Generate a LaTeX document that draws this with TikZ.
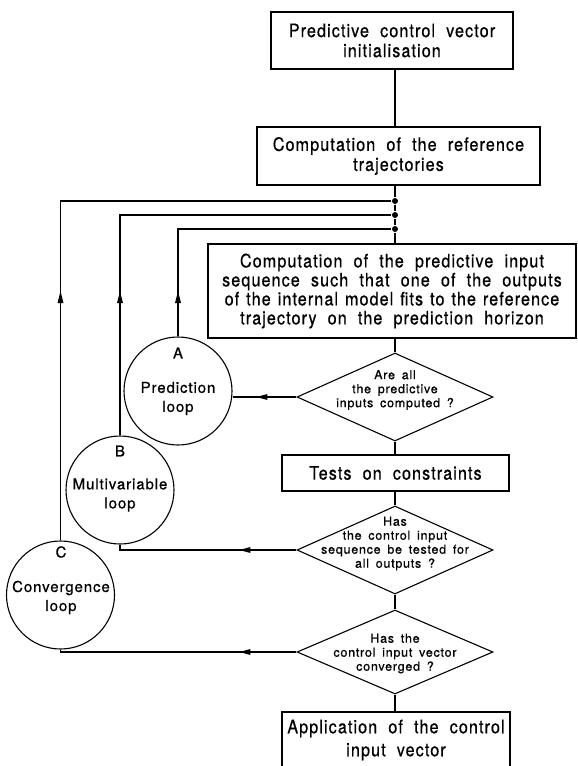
\documentclass[tikz,border=0pt]{standalone}
\usepackage{fontspec}
\setmainfont{TeX Gyre Heros}
\newfontfamily\boxfont{TeX Gyre Heros}[FakeStretch=0.87,LetterSpace=6,WordSpace=2,FakeBold=0.6]
\newfontfamily\smfont{TeX Gyre Heros}[LetterSpace=6,WordSpace=1.6,FakeBold=0.6]
\usetikzlibrary{shapes.geometric}
\begin{document}
\begin{tikzpicture}[x=1pt,y=-1pt,line width=1.1pt,
  procbox/.style={draw,rectangle,inner sep=0pt,align=center,
    font=\boxfont\fontsize{18.5}{20}\selectfont},
  decision/.style={draw,diamond,inner sep=0pt,minimum width=196pt},
  dtext/.style={align=center,inner sep=0pt,font=\smfont\fontsize{12.5}{14}\selectfont},
  loopc/.style={draw,circle,inner sep=0pt,minimum size=108pt},
  ctext/.style={align=center,inner sep=0pt,font=\smfont\fontsize{15}{19}\selectfont},
  junction/.style={circle,fill,inner sep=0pt,minimum size=6pt},
  headfill/.style={fill,draw=none}
]
\useasboundingbox (0,0) rectangle (578,766);
\clip (0,0) rectangle (578,766);

% process boxes
\node[procbox,minimum width=242pt,minimum height=57pt] (b1) at (392,40.5)
  {Predictive control vector\\initialisation};
\node[procbox,minimum width=283pt,minimum height=58pt] (b2) at (398.5,156)
  {Computation of the reference\\trajectories};
\node[procbox,minimum width=368pt,minimum height=94pt,
  font=\boxfont\fontsize{18.5}{19}\selectfont] (b3) at (392,291)
  {Computation of the predictive input\\sequence such that one of the outputs\\{\spaceskip=7pt of the internal model fits to the reference}\\trajectory on the prediction horizon};
\node[procbox,minimum width=227pt,minimum height=36pt] (t) at (395.5,473)
  {Tests on constraints};
\node[procbox,minimum width=228pt,minimum height=56pt,
  font=\boxfont\fontsize{18.5}{23}\selectfont] (b4) at (396,740)
  {Application of the control\\input vector};

% junction dots
\node[junction] (p1) at (395,201) {};
\node[junction] (p2) at (395,215) {};
\node[junction] (p3) at (395,229) {};

% decisions
\node[decision,minimum height=88pt] (d1) at (395,397) {};
\node[dtext] (d1t) at (395,390) {Are all\\the predictive\\inputs computed ?};
\node[decision,minimum height=88pt] (d2) at (395,550) {};
\node[dtext] (d2t) at (395,543.5) {Has\\the control input\\sequence be tested for\\all outputs ?};
\node[decision,minimum height=84pt] (d3) at (395,652) {};
\node[dtext] (d3t) at (395,653.5) {Has the\\control input vector\\converged ?};

% loop circles
\node[loopc] (A) at (178,391) {};
\node[ctext] (Al) at (178,353) {A};
\node[ctext] (At) at (178,398.5) {Prediction\\loop};
\node[loopc] (B) at (120,490) {};
\node[ctext] (Bl) at (120,451) {B};
\node[ctext] (Bt) at (120,495) {Multivariable\\loop};
\node[loopc] (C) at (60.5,595) {};
\node[ctext] (Cl) at (61,552) {C};
\node[ctext] (Ct) at (61,597.5) {Convergence\\loop};

% main flow
\draw (p1 |- b1.south) -- (p1 |- b2.north);
\draw (p1 |- b2.south) -- (p1) -- (p2) -- (p3) -- (p3 |- b3.north);
\draw (d1.north |- b3.south) -- (d1.north);
\draw (d1.south) -- (d1.south |- t.north);
\draw (d2.north |- t.south) -- (d2.north);
\draw (d2.south) -- (d3.north);
\draw (d3.south) -- (d3.south |- b4.north);

% loop return lines
\draw (d1.west) -- (d1.west -| A.east);
\draw (A.north) -- (A.north |- p3) -- (p3);
\draw (d2.west) -- (d2.west -| B.south) -- (B.south);
\draw (B.north) -- (B.north |- p2) -- (p2);
\draw (d3.west) -- (d3.west -| C.south) -- (C.south);
\draw (C.north) -- (C.north |- p1) -- (p1);

% arrowheads (left-pointing)
\coordinate (h1) at ([xshift=-40pt]d1.west);
\coordinate (h2) at ([xshift=-57pt]d2.west);
\coordinate (h3) at ([xshift=-57pt]d3.west);
\foreach \h in {h1,h2,h3}
  \fill[headfill] (\h) -- ++(11,-3) -- ++(0,6) -- cycle;
% arrowheads (up-pointing)
\coordinate (va) at (A.north |- 0,291);
\coordinate (vb) at (B.north |- 0,291);
\coordinate (vc) at (C.north |- 0,291);
\foreach \v in {va,vb,vc}
  \fill[headfill] (\v) -- ++(-3,12) -- ++(6,0) -- cycle;
\end{tikzpicture}
\end{document}
